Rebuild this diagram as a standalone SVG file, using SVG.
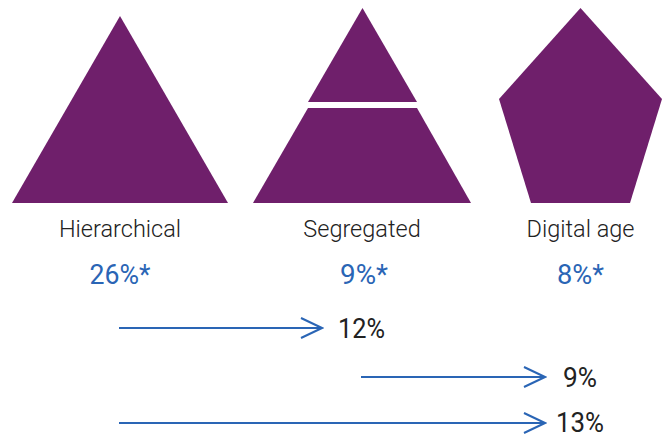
<svg xmlns="http://www.w3.org/2000/svg" width="670" height="440" viewBox="0 0 670 440">
<style>
.shape{fill:#6f1f6b}
.lbl{font-family:Roboto,"Liberation Sans",sans-serif;font-weight:300;font-size:23.5px;fill:#222;text-anchor:middle}
.pct{font-family:Roboto,"Liberation Sans",sans-serif;font-size:28px;fill:#2a65b5;text-anchor:middle}
.val{font-family:Roboto,"Liberation Sans",sans-serif;font-size:28px;fill:#222}
.arr{stroke:#2a65b5;stroke-width:2;fill:none}
</style>
<defs>
<marker id="ah" viewBox="0 0 24 22" refX="22" refY="11" markerWidth="24" markerHeight="22" markerUnits="userSpaceOnUse" orient="auto">
<path d="M1,1 L22,11 L1,21" fill="none" stroke="#2a65b5" stroke-width="2"/>
</marker>
</defs>
<rect width="670" height="440" fill="#fff"/>
<g id="hierarchical">
<polygon class="shape" points="120,16 228,203 12,203"/>
<text class="lbl" x="120" y="237">Hierarchical</text>
<text class="pct" x="120" y="284" textLength="61" lengthAdjust="spacingAndGlyphs">26%*</text>
</g>
<g id="segregated">
<polygon class="shape" points="362.5,8 417,102 308,102"/>
<polygon class="shape" points="308,108 417,108 471,203 253,203"/>
<text class="lbl" x="362" y="237">Segregated</text>
<text class="pct" x="364" y="284" textLength="48" lengthAdjust="spacingAndGlyphs">9%*</text>
</g>
<g id="digital">
<polygon class="shape" points="580.5,8 662,99 630,203 531,203 499,99"/>
<text class="lbl" x="580.5" y="237">Digital age</text>
<text class="pct" x="580.5" y="284" textLength="47" lengthAdjust="spacingAndGlyphs">8%*</text>
</g>
<g id="connectors">
<line class="arr" x1="119" y1="328" x2="322" y2="328" marker-end="url(#ah)"/>
<line class="arr" x1="361" y1="377" x2="545" y2="377" marker-end="url(#ah)"/>
<line class="arr" x1="119" y1="423" x2="545" y2="423" marker-end="url(#ah)"/>
</g>
<g id="values">
<text class="val" x="338" y="338" textLength="47" lengthAdjust="spacingAndGlyphs">12%</text>
<text class="val" x="563" y="387" textLength="34" lengthAdjust="spacingAndGlyphs">9%</text>
<text class="val" x="556" y="432" textLength="48" lengthAdjust="spacingAndGlyphs">13%</text>
</g>
</svg>
